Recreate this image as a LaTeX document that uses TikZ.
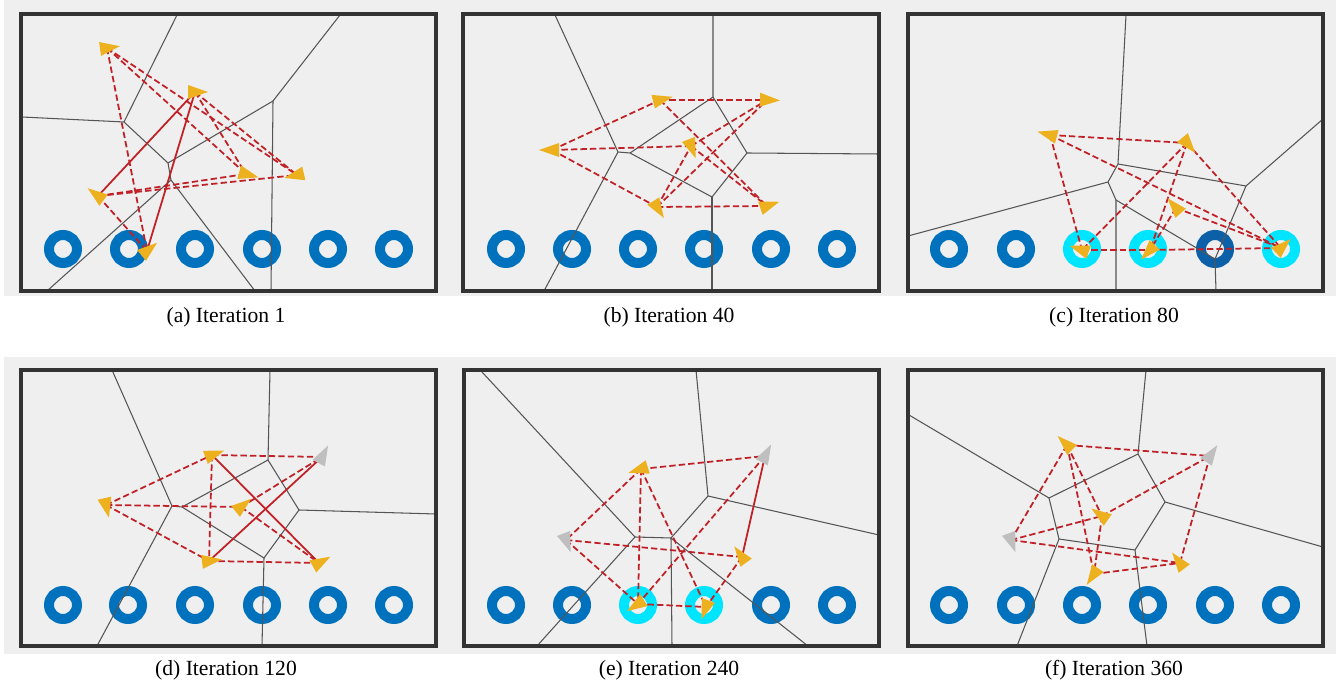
\documentclass[tikz,border=0pt]{standalone}
\usepackage{fontspec}
\setmainfont{Liberation Serif}
\usepackage{xcolor}

\definecolor{bggray}{RGB}{239,239,239}
\definecolor{framegray}{RGB}{51,51,51}
\definecolor{cellline}{RGB}{85,85,85}
\definecolor{ringblue}{RGB}{0,114,189}
\definecolor{ringdark}{RGB}{12,96,168}
\definecolor{ringcyan}{RGB}{0,229,255}
\definecolor{agentyellow}{RGB}{237,177,32}
\definecolor{agentgray}{RGB}{191,191,191}
\definecolor{linkred}{RGB}{192,32,38}

\tikzset{
  cell/.style={cellline, line width=0.6pt},
  panelframe/.style={framegray, line width=1.8pt},
  ring/.style={ringblue, line width=0.2cm},
  link/.style={linkred, line width=1pt, dash pattern=on 3.6pt off 1.8pt},
  linksolid/.style={linkred, line width=1pt},
  captext/.style={font=\fontsize{12.3}{15}\selectfont},
  agent/.pic={\fill (13,0) -- (-7,7) -- (-7,-7) -- cycle;}
}

\begin{document}
\begin{tikzpicture}[x=0.02cm, y=-0.02cm]
        \useasboundingbox (0,0) rectangle (1336,685);

        % Gray backgrounds of the two rows
        \fill[bggray] (4,0) rectangle (1336,296);
        \fill[bggray] (4,357) rectangle (1336,654);

        % Goal rings
        \foreach \x in {63,129,195,262,328,394}
            \draw[ring] (\x,249) circle (14);
        \foreach \x in {506,572,638,704,771,837}
            \draw[ring] (\x,249) circle (14);
        \foreach \x in {949,1016}
            \draw[ring] (\x,249) circle (14);
        \foreach \x in {1082,1148,1281}
            \draw[ring, ringcyan] (\x,249) circle (14);
        \draw[ring, ringdark] (1215,249) circle (14);
        \foreach \x in {63,128,195,262,328,394}
            \draw[ring] (\x,605) circle (14);
        \foreach \x in {506,572,771,837}
            \draw[ring] (\x,605) circle (14);
        \foreach \x in {638,704}
            \draw[ring, ringcyan] (\x,605) circle (14);
        \foreach \x in {949,1016,1082,1148,1215,1281}
            \draw[ring] (\x,605) circle (14);

        % Voronoi cells
        % (a)
        \draw[cell] (177,15) -- (124,122) -- (22,117);
        \draw[cell] (124,122) -- (168,163) -- (171,180) -- (255,291);
        \draw[cell] (168,163) -- (273,101) -- (340,15);
        \draw[cell] (273,101) -- (271,291);
        \draw[cell] (171,180) -- (47,291);
        % (b)
        \draw[cell] (555,15) -- (618,152) -- (630,153) -- (713,97) -- (713,15);
        \draw[cell] (713,97) -- (747,153) -- (879,154);
        \draw[cell] (747,153) -- (712,197) -- (630,153);
        \draw[cell] (712,197) -- (712,291);
        \draw[cell] (618,152) -- (544,291);
        % (c)
        \draw[cell] (1126,15) -- (1118,164) -- (1108,182) -- (908,236);
        \draw[cell] (1118,164) -- (1246,186) -- (1323,119);
        \draw[cell] (1246,186) -- (1215,259) -- (1216,291);
        \draw[cell] (1108,182) -- (1116,200) -- (1116,291);
        \draw[cell] (1116,200) -- (1215,259);
        % (d)
        \draw[cell] (112,370) -- (172,506) -- (182,507) -- (268,460) -- (270,370);
        \draw[cell] (268,460) -- (299,510) -- (436,514);
        \draw[cell] (299,510) -- (264,558) -- (182,507);
        \draw[cell] (264,558) -- (262,646);
        \draw[cell] (172,506) -- (97,646);
        % (e)
        \draw[cell] (482,372) -- (635,537) -- (671,538) -- (708,496) -- (696,370);
        \draw[cell] (708,496) -- (879,535);
        \draw[cell] (671,538) -- (672,646);
        \draw[cell] (671,538) -- (808,646);
        \draw[cell] (635,537) -- (537,646);
        % (f)
        \draw[cell] (909,415) -- (1049,498) -- (1138,454) -- (1146,370);
        \draw[cell] (1138,454) -- (1165,502) -- (1323,547);
        \draw[cell] (1165,502) -- (1135,550) -- (1059,539) -- (1049,498);
        \draw[cell] (1059,539) -- (1017,646);
        \draw[cell] (1135,550) -- (1147,646);

        % Panel frames
        \draw[panelframe] (21,14) rectangle (436,291);
        \draw[panelframe] (463,14) rectangle (879,291);
        \draw[panelframe] (908,14) rectangle (1323,291);
        \draw[panelframe] (21,370) rectangle (436,646);
        \draw[panelframe] (464,370) rectangle (879,646);
        \draw[panelframe] (908,370) rectangle (1323,646);

        % Agent positions
        \coordinate (a1) at (107,48);   \coordinate (a2) at (195,92);
        \coordinate (a3) at (246,174);  \coordinate (a4) at (297,175);
        \coordinate (a5) at (98,196);   \coordinate (a6) at (147,251);
        \coordinate (b1) at (660,100);  \coordinate (b2) at (767,100);
        \coordinate (b3) at (552,150);  \coordinate (b4) at (691,146);
        \coordinate (b5) at (657,207);  \coordinate (b6) at (767,206);
        \coordinate (c1) at (1050,135); \coordinate (c2) at (1187,143);
        \coordinate (c3) at (1176,208); \coordinate (c4) at (1082,250);
        \coordinate (c5) at (1150,250); \coordinate (c6) at (1281,248);
        \coordinate (d1) at (212,455);  \coordinate (d2) at (322,457);
        \coordinate (d3) at (106,505);  \coordinate (d4) at (241,507);
        \coordinate (d5) at (209,561);  \coordinate (d6) at (319,563);
        \coordinate (e1) at (641,469);  \coordinate (e2) at (765,456);
        \coordinate (e3) at (566,540);  \coordinate (e4) at (742,557);
        \coordinate (e5) at (638,604);  \coordinate (e6) at (706,607);
        \coordinate (f1) at (1067,445); \coordinate (f2) at (1210,456);
        \coordinate (f3) at (1102,516); \coordinate (f4) at (1011,540);
        \coordinate (f5) at (1094,574); \coordinate (f6) at (1180,563);

        % Communication links
        \foreach \u/\v in {a1/a6, a1/a3, a1/a4, a2/a4, a2/a3, a5/a3, a5/a4, a5/a6,
                           b3/b1, b1/b2, b3/b4, b3/b5, b5/b6, b1/b6, b4/b2, b5/b2, b5/b4, b4/b6,
                           c1/c2, c1/c4, c1/c6, c2/c4, c2/c5, c3/c5, c2/c6, c4/c5, c5/c6, c3/c6,
                           d3/d1, d1/d2, d3/d4, d3/d5, d5/d6, d1/d5, d4/d2, d4/d6,
                           e1/e2, e1/e3, e1/e5, e1/e6, e2/e5, e3/e4, e3/e5, e5/e6, e4/e6,
                           f1/f2, f1/f4, f1/f3, f1/f5, f4/f3, f3/f2, f3/f5, f2/f6, f4/f6, f5/f6}
            \draw[link] (\u) -- (\v);
        \foreach \u/\v in {a2/a5, a2/a6, d5/d2, d1/d6, e2/e4}
            \draw[linksolid] (\u) -- (\v);

        % Agents (heading in degrees)
        \foreach \p/\r in {a1/8, a2/0, a3/345, a4/193, a5/143, a6/39,
                           b1/14, b2/-2, b3/180, b4/291, b5/302, b6/19,
                           c1/165, c2/310, c3/131, c4/161, c5/227, c6/43,
                           d1/20, d3/283, d4/39, d5/7, d6/29,
                           e1/197, e4/126, e5/213, e6/250,
                           f1/136, f3/145, f5/236, f6/127}
            \pic[agentyellow, rotate=\r] at (\p) {agent};
        \foreach \p/\r in {d2/62, e2/62, e3/291, f2/56, f4/290}
            \pic[agentgray, rotate=\r] at (\p) {agent};

        % Captions
        \node[captext] (capa) at (226,317) {(a) Iteration 1};
        \node[captext] (capb) at (669,317) {(b) Iteration 40};
        \node[captext] (capc) at (1114,317) {(c) Iteration 80};
        \node[captext] (capd) at (226,670) {(d) Iteration 120};
        \node[captext] (cape) at (669,670) {(e) Iteration 240};
        \node[captext] (capf) at (1114,670) {(f) Iteration 360};

\end{tikzpicture}
\end{document}
